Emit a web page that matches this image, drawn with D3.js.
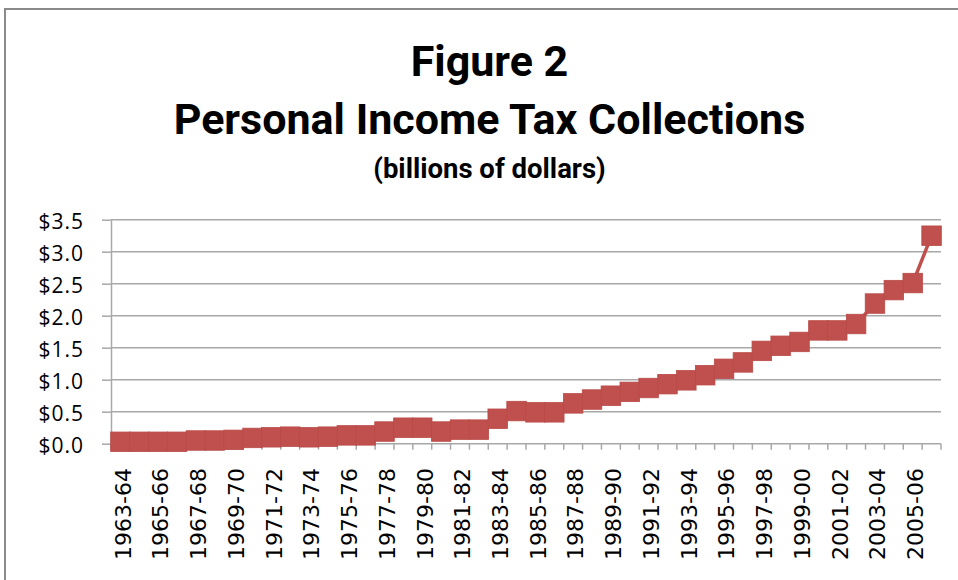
<!DOCTYPE html>
<html>
<head>
<meta charset="utf-8">
<script src="https://cdn.jsdelivr.net/npm/d3@7"></script>
<style>
  body { margin: 0; background: #fff; }
  svg { display: block; }
</style>
</head>
<body>
<svg id="chart" width="958" height="580"></svg>
<script>
// fiscal years on the category axis
const categories = [
  '1963-64', '1964-65', '1965-66', '1966-67', '1967-68', '1968-69', '1969-70', '1970-71',
  '1971-72', '1972-73', '1973-74', '1974-75', '1975-76', '1976-77', '1977-78', '1978-79',
  '1979-80', '1980-81', '1981-82', '1982-83', '1983-84', '1984-85', '1985-86', '1986-87',
  '1987-88', '1988-89', '1989-90', '1990-91', '1991-92', '1992-93', '1993-94', '1994-95',
  '1995-96', '1996-97', '1997-98', '1998-99', '1999-00', '2000-01', '2001-02', '2002-03',
  '2003-04', '2004-05', '2005-06', '2006-07',
];

// billions of dollars
const collections = [
  0.03, 0.03, 0.03, 0.03, 0.05, 0.05, 0.06, 0.09,
  0.10, 0.11, 0.10, 0.11, 0.13, 0.13, 0.19, 0.25,
  0.25, 0.19, 0.22, 0.22, 0.39, 0.51, 0.49, 0.49,
  0.63, 0.69, 0.75, 0.81, 0.87, 0.93, 0.99, 1.07,
  1.17, 1.27, 1.45, 1.53, 1.59, 1.77, 1.77, 1.87,
  2.19, 2.40, 2.51, 3.25,
];

const yTicks = [0, 0.5, 1.0, 1.5, 2.0, 2.5, 3.0, 3.5];
const xLabels = categories.filter((d, i) => i % 2 === 0);

const titleLines = ['Figure 2', 'Personal Income Tax Collections'];
const subtitle = '(billions of dollars)';

const svg = d3.select('#chart');
const plot = { left: 111, right: 941, top: 219.7, bottom: 443.7 };
const gridColor = '#a8a8a8';
const seriesColor = '#c0504d';

// chart area border
svg.append('rect')
  .attr('x', 5)
  .attr('y', 9)
  .attr('width', 1000)
  .attr('height', 600)
  .attr('fill', 'none')
  .attr('stroke', '#8a8a8a')
  .attr('stroke-width', 2);

const x = d3.scaleBand().domain(categories).range([plot.left, plot.right]).padding(0);
const y = d3.scaleLinear().domain([0, 3.5]).range([plot.bottom, plot.top]);

// titles
svg.append('g')
  .selectAll('text')
  .data(titleLines)
  .join('text')
  .attr('x', 489.5)
  .attr('y', (d, i) => 76 + i * 58)
  .attr('text-anchor', 'middle')
  .style('font-family', 'Roboto, "Open Sans", sans-serif')
  .style('font-weight', 700)
  .style('font-size', '43px')
  .text((d) => d);

svg.append('text')
  .attr('x', 489.5)
  .attr('y', 178)
  .attr('text-anchor', 'middle')
  .style('font-family', 'Roboto, "Open Sans", sans-serif')
  .style('font-weight', 700)
  .style('font-size', '27.5px')
  .text(subtitle);

// horizontal gridlines
svg.append('g')
  .selectAll('line')
  .data(yTicks)
  .join('line')
  .attr('x1', plot.left)
  .attr('x2', plot.right)
  .attr('y1', (d) => y(d))
  .attr('y2', (d) => y(d))
  .attr('stroke', gridColor)
  .attr('stroke-width', 1.5);

// y axis
const yAxis = svg.append('g')
  .attr('transform', `translate(${plot.left},0)`)
  .call(
    d3.axisLeft(y)
      .tickValues(yTicks)
      .tickSize(9)
      .tickSizeOuter(0)
      .tickPadding(18)
      .tickFormat((d) => '$' + d.toFixed(1)),
  );
yAxis.select('.domain').attr('stroke', gridColor).attr('stroke-width', 1.5);
yAxis.selectAll('.tick line').attr('stroke', gridColor).attr('stroke-width', 1.5);
yAxis.selectAll('.tick text')
  .attr('dy', '0.43em')
  .attr('fill', '#000')
  .style('font-family', '"Open Sans", sans-serif')
  .style('font-size', '21px')
  .style('letter-spacing', '1px');

// x axis: ticks between categories, labels on every other one
const boundaries = d3.range(categories.length + 1).map((i) => plot.left + i * x.step());
svg.append('g')
  .selectAll('line')
  .data(boundaries)
  .join('line')
  .attr('x1', (d) => d)
  .attr('x2', (d) => d)
  .attr('y1', plot.bottom)
  .attr('y2', plot.bottom + 6)
  .attr('stroke', gridColor)
  .attr('stroke-width', 1.5);

const xAxis = svg.append('g')
  .attr('transform', `translate(0,${plot.bottom})`)
  .call(d3.axisBottom(x).tickValues(xLabels).tickSize(0));
xAxis.select('.domain').remove();
xAxis.selectAll('.tick text')
  .attr('transform', 'rotate(-90)')
  .attr('text-anchor', 'end')
  .attr('x', -24.3)
  .attr('y', 0)
  .attr('dy', 10.3)
  .attr('fill', '#000')
  .style('font-family', '"DejaVu Sans", sans-serif')
  .style('font-size', '22px');

// series line and square markers
const line = d3.line()
  .x((d, i) => x(categories[i]) + x.bandwidth() / 2)
  .y((d) => y(d));

svg.append('path')
  .datum(collections)
  .attr('d', line)
  .attr('fill', 'none')
  .attr('stroke', seriesColor)
  .attr('stroke-width', 3.5);

const markerSize = 19.5;
svg.append('g')
  .selectAll('rect')
  .data(collections)
  .join('rect')
  .attr('x', (d, i) => x(categories[i]) + x.bandwidth() / 2 - markerSize / 2)
  .attr('y', (d) => y(d) - markerSize / 2)
  .attr('width', markerSize)
  .attr('height', markerSize)
  .attr('fill', seriesColor)
  .attr('stroke', '#b94a47')
  .attr('stroke-width', 0.8);
</script>
</body>
</html>
